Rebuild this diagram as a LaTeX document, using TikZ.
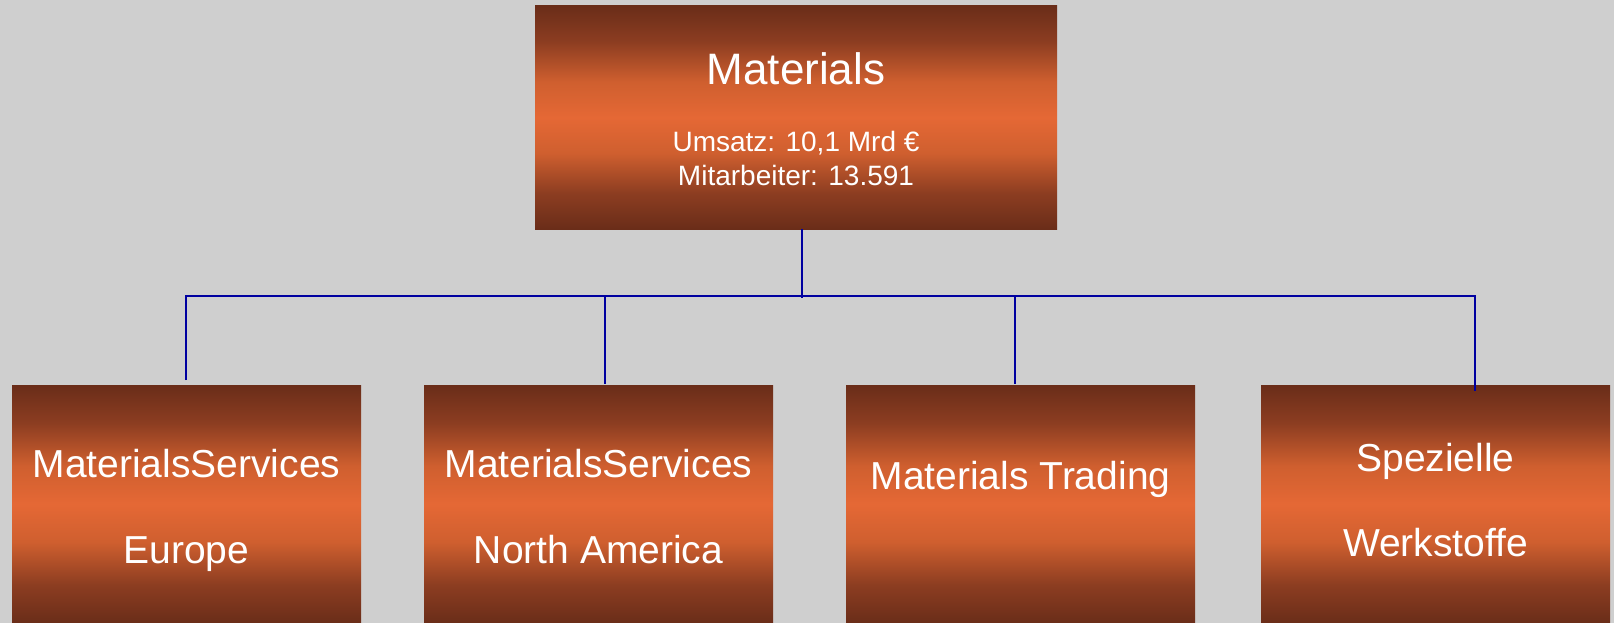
\documentclass[tikz,border=0pt]{standalone}
\usepackage{fontspec}
\setmainfont{Liberation Sans}
\definecolor{bg}{HTML}{CFCFCF}
\definecolor{dk}{HTML}{6A2D19}
\definecolor{md}{HTML}{8C3D21}
\definecolor{lt}{HTML}{CF5F2F}
\definecolor{org}{HTML}{E56835}
\definecolor{conncol}{HTML}{0000A0}
\pgfdeclareverticalshading{boxshade}{100bp}{color(0bp)=(dk); color(25bp)=(dk); color(33bp)=(md); color(42bp)=(lt); color(50bp)=(org); color(58bp)=(lt); color(67bp)=(md); color(75bp)=(dk); color(100bp)=(dk)}
\tikzset{
  unitbox/.style={rectangle, inner sep=0pt, outer sep=0pt, shading=boxshade, draw=none},
  lbl/.style={text=white, inner sep=0pt, anchor=base, font=\fontsize{39}{46}\selectfont},
  toplbl/.style={text=white, inner sep=0pt, anchor=base, font=\fontsize{44}{52}\selectfont},
  sublbl/.style={text=white, inner sep=0pt, anchor=base, font=\fontsize{28}{33}\selectfont},
  conn/.style={draw=conncol, line width=2.4pt}
}
\begin{document}
\begin{tikzpicture}[x=1pt,y=-1pt]
\fill[bg] (0,0) rectangle (1614,623);
\useasboundingbox (0,0) rectangle (1614,623);
% boxes
\node[unitbox, minimum width=522pt, minimum height=223pt] (top) at (796,117.5) {};
\node[unitbox, minimum width=349pt, minimum height=238pt] (eu) at (186.5,504) {};
\node[unitbox, minimum width=349pt, minimum height=238pt] (na) at (598.5,504) {};
\node[unitbox, minimum width=349pt, minimum height=238pt] (tr) at (1020.5,504) {};
\node[unitbox, minimum width=349pt, minimum height=238pt] (sw) at (1435.5,504) {};
% labels
\node[toplbl] (t1) at (796,85) {Materials};
\node[sublbl] (t2) at (796,151) {Umsatz: 10,1 Mrd €};
\node[sublbl] (t3) at (796,185) {Mitarbeiter: 13.591};
\node[lbl] (eu1) at (186.5,477) {MaterialsServices};
\node[lbl] (eu2) at (186.5,563) {Europe};
\node[lbl] (na1) at (598.5,477) {MaterialsServices};
\node[lbl] (na2) at (598.5,563) {North America};
\node[lbl] (tr1) at (1020.5,489) {Materials Trading};
\node[lbl] (sw1) at (1435.5,471) {Spezielle};
\node[lbl] (sw2) at (1435.5,556) {Werkstoffe};
% connector coordinates
\coordinate (topdrop) at (802,229);
\coordinate (hub) at (802,298);
\coordinate (busL) at (186,296);
\coordinate (busR) at (1475,296);
\coordinate (busNA) at (605,296);
\coordinate (busTR) at (1015,296);
\coordinate (endEU) at (186,380);
\coordinate (endNA) at (605,384);
\coordinate (endTR) at (1015,384);
\coordinate (endSW) at (1475,391);
% connectors
\draw[conn] (topdrop) -- (hub);
\draw[conn] (endEU) -- (busL) -- (busR) -- (endSW);
\draw[conn] (busNA) -- (endNA);
\draw[conn] (busTR) -- (endTR);
\end{tikzpicture}
\end{document}
